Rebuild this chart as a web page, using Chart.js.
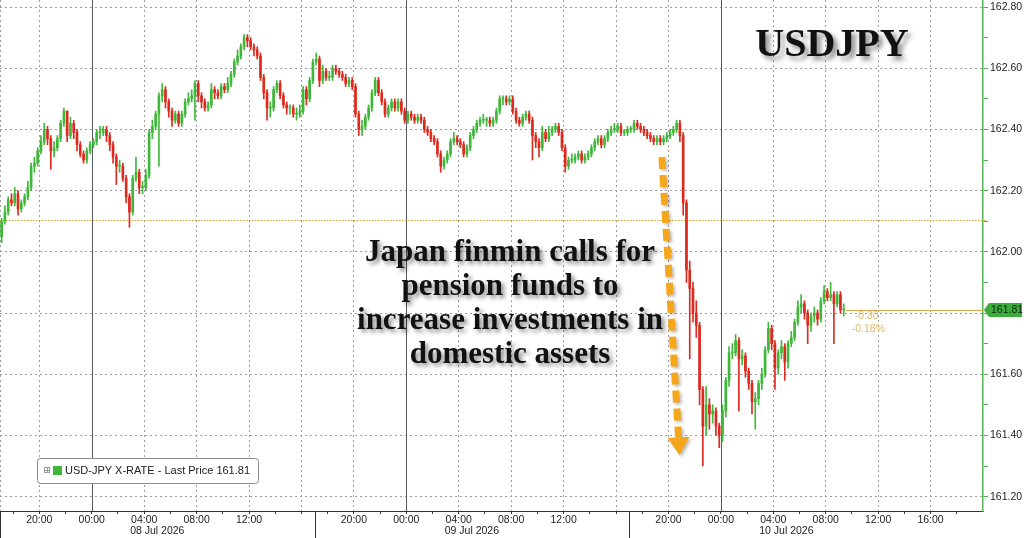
<!DOCTYPE html>
<html>
<head>
<meta charset="utf-8">
<title>USDJPY</title>
<script src="https://cdn.jsdelivr.net/npm/chart.js@4.4.1/dist/chart.umd.min.js"></script>
<style>
  html, body { margin: 0; padding: 0; background: #fff; }
  #wrap { width: 1024px; height: 538px; }
</style>
</head>
<body>
<div id="wrap"><canvas id="fx" width="1024" height="538"></canvas></div>
<script>
/***********************
 Data (15 min candles, hours counted from 07 Jul 2026 17:00)
 ***********************/
const candleStep = 0.25;

const opens = [
  162.05,162.10,162.13,162.17,162.16,162.19,162.14,162.16,162.18,162.21,
  162.28,162.29,162.33,162.36,162.40,162.37,162.33,162.34,162.37,162.42,
  162.46,162.38,162.42,162.39,162.35,162.32,162.30,162.33,162.35,162.36,
  162.39,162.39,162.40,162.38,162.35,162.31,162.28,162.28,162.24,162.18,
  162.13,162.24,162.26,162.21,162.21,162.25,162.39,162.41,162.45,162.51,
  162.53,162.49,162.46,162.43,162.45,162.42,162.45,162.49,162.50,162.51,
  162.55,162.51,162.49,162.47,162.48,162.53,162.52,162.51,162.54,162.53,
  162.55,162.58,162.62,162.64,162.67,162.70,162.69,162.67,162.66,162.64,
  162.57,162.52,162.47,162.47,162.53,162.55,162.51,162.48,162.47,162.47,
  162.45,162.45,162.46,162.53,162.50,162.56,162.62,162.63,162.56,162.59,
  162.57,162.57,162.60,162.59,162.58,162.57,162.55,162.56,162.54,162.45,
  162.40,162.41,162.44,162.47,162.52,162.56,162.52,162.49,162.45,162.47,
  162.49,162.47,162.49,162.46,162.43,162.45,162.44,162.43,162.44,162.43,
  162.40,162.39,162.37,162.36,162.32,162.28,162.30,162.32,162.36,162.37,
  162.36,162.35,162.32,162.34,162.38,162.40,162.42,162.43,162.43,162.43,
  162.42,162.43,162.46,162.50,162.50,162.49,162.50,162.46,162.43,162.42,
  162.44,162.45,162.43,162.38,162.36,162.34,162.39,162.37,162.39,162.40,
  162.41,162.39,162.34,162.28,162.30,162.30,162.31,162.32,162.30,162.31,
  162.32,162.34,162.36,162.37,162.35,162.37,162.39,162.40,162.40,162.41,
  162.39,162.39,162.40,162.40,162.42,162.41,162.40,162.39,162.38,162.37,
  162.36,162.37,162.36,162.37,162.38,162.39,162.40,162.42,162.38,162.16,
  161.94,161.88,161.80,161.76,161.55,161.43,161.50,161.47,161.48,161.43,
  161.40,161.48,161.58,161.67,161.67,161.71,161.65,161.66,161.61,161.57,
  161.51,161.52,161.57,161.60,161.68,161.75,161.70,161.62,161.67,161.69,
  161.64,161.70,161.72,161.77,161.82,161.83,161.80,161.76,161.79,161.80,
  161.78,161.84,161.87,161.85,161.86,161.83,161.86,161.81
];
const closes = [
  162.10,162.13,162.17,162.16,162.19,162.14,162.16,162.18,162.21,162.28,
  162.29,162.33,162.36,162.40,162.37,162.33,162.34,162.37,162.42,162.46,
  162.38,162.42,162.39,162.35,162.32,162.30,162.33,162.35,162.36,162.39,
  162.39,162.40,162.38,162.35,162.31,162.28,162.28,162.24,162.18,162.13,
  162.24,162.26,162.21,162.21,162.25,162.39,162.41,162.45,162.51,162.53,
  162.49,162.46,162.43,162.45,162.42,162.45,162.49,162.50,162.51,162.55,
  162.51,162.49,162.47,162.48,162.53,162.52,162.51,162.54,162.53,162.55,
  162.58,162.62,162.64,162.67,162.70,162.69,162.67,162.66,162.64,162.57,
  162.52,162.47,162.47,162.53,162.55,162.51,162.48,162.47,162.47,162.45,
  162.45,162.46,162.53,162.50,162.56,162.62,162.63,162.56,162.59,162.57,
  162.57,162.60,162.59,162.58,162.57,162.55,162.56,162.54,162.45,162.40,
  162.41,162.44,162.47,162.52,162.56,162.52,162.49,162.45,162.47,162.49,
  162.47,162.49,162.46,162.43,162.45,162.44,162.43,162.44,162.43,162.40,
  162.39,162.37,162.36,162.32,162.28,162.30,162.32,162.36,162.37,162.36,
  162.35,162.32,162.34,162.38,162.40,162.42,162.43,162.43,162.43,162.42,
  162.43,162.46,162.50,162.50,162.49,162.50,162.46,162.43,162.42,162.44,
  162.45,162.43,162.38,162.36,162.34,162.39,162.37,162.39,162.40,162.41,
  162.39,162.34,162.28,162.30,162.30,162.31,162.32,162.30,162.31,162.32,
  162.34,162.36,162.37,162.35,162.37,162.39,162.40,162.40,162.41,162.39,
  162.39,162.40,162.40,162.42,162.41,162.40,162.39,162.38,162.37,162.36,
  162.37,162.36,162.37,162.38,162.39,162.40,162.42,162.38,162.16,161.94,
  161.88,161.80,161.76,161.55,161.43,161.50,161.47,161.48,161.43,161.40,
  161.48,161.58,161.67,161.67,161.71,161.65,161.66,161.61,161.57,161.51,
  161.52,161.57,161.60,161.68,161.75,161.70,161.62,161.67,161.69,161.64,
  161.70,161.72,161.77,161.82,161.83,161.80,161.76,161.79,161.80,161.78,
  161.84,161.87,161.85,161.86,161.83,161.86,161.81,161.81
];
const highs = [
  162.11,162.15,162.18,162.19,162.21,162.20,162.17,162.19,162.23,162.29,
  162.31,162.34,162.38,162.42,162.41,162.38,162.36,162.38,162.43,162.47,
  162.46,162.44,162.43,162.40,162.36,162.33,162.34,162.36,162.37,162.40,
  162.41,162.41,162.41,162.39,162.36,162.32,162.30,162.29,162.25,162.19,
  162.25,162.31,162.27,162.23,162.27,162.40,162.43,162.46,162.52,162.55,
  162.54,162.50,162.47,162.46,162.46,162.46,162.50,162.52,162.53,162.56,
  162.56,162.52,162.50,162.49,162.55,162.54,162.53,162.55,162.55,162.57,
  162.59,162.63,162.66,162.68,162.71,162.71,162.70,162.68,162.67,162.65,
  162.58,162.53,162.49,162.54,162.56,162.56,162.52,162.49,162.48,162.48,
  162.47,162.48,162.54,162.54,162.57,162.63,162.65,162.64,162.61,162.60,
  162.59,162.61,162.61,162.60,162.59,162.58,162.57,162.57,162.55,162.46,
  162.43,162.45,162.48,162.53,162.57,162.57,162.53,162.50,162.48,162.50,
  162.50,162.50,162.50,162.47,162.46,162.46,162.45,162.45,162.45,162.44,
  162.41,162.40,162.38,162.37,162.33,162.31,162.33,162.37,162.39,162.38,
  162.37,162.36,162.35,162.39,162.41,162.43,162.44,162.45,162.44,162.44,
  162.44,162.47,162.51,162.51,162.51,162.51,162.51,162.47,162.44,162.45,
  162.46,162.46,162.44,162.39,162.37,162.41,162.40,162.41,162.41,162.42,
  162.42,162.40,162.35,162.31,162.32,162.32,162.33,162.33,162.32,162.33,
  162.35,162.37,162.38,162.38,162.38,162.40,162.41,162.42,162.42,162.42,
  162.40,162.41,162.41,162.43,162.43,162.42,162.41,162.40,162.39,162.38,
  162.38,162.38,162.38,162.39,162.40,162.41,162.43,162.43,162.39,162.17,
  161.97,161.90,161.84,161.77,161.56,161.56,161.52,161.50,161.49,161.44,
  161.50,161.59,161.69,161.70,161.73,161.72,161.68,161.67,161.62,161.58,
  161.54,161.58,161.62,161.69,161.77,161.76,161.71,161.68,161.71,161.70,
  161.71,161.74,161.78,161.84,161.86,161.84,161.81,161.80,161.82,161.81,
  161.85,161.89,161.88,161.90,161.87,161.87,161.87,161.83
];
const lows = [
  162.03,162.09,162.12,162.15,162.15,162.12,162.13,162.15,162.17,162.20,
  162.26,162.28,162.32,162.35,162.35,162.27,162.31,162.33,162.36,162.41,
  162.36,162.37,162.37,162.33,162.31,162.29,162.29,162.32,162.34,162.35,
  162.37,162.38,162.36,162.33,162.29,162.22,162.26,162.23,162.16,162.08,
  162.12,162.23,162.19,162.19,162.20,162.24,162.37,162.40,162.28,162.49,
  162.47,162.44,162.41,162.42,162.41,162.41,162.44,162.48,162.49,162.43,
  162.49,162.47,162.46,162.46,162.47,162.50,162.50,162.50,162.52,162.52,
  162.54,162.57,162.61,162.63,162.66,162.67,162.66,162.64,162.63,162.56,
  162.50,162.43,162.44,162.46,162.52,162.50,162.47,162.45,162.45,162.44,
  162.43,162.44,162.45,162.48,162.49,162.55,162.61,162.54,162.55,162.56,
  162.56,162.56,162.58,162.57,162.56,162.54,162.54,162.53,162.44,162.38,
  162.38,162.40,162.43,162.46,162.51,162.51,162.48,162.44,162.44,162.46,
  162.46,162.46,162.45,162.42,162.42,162.43,162.42,162.42,162.42,162.39,
  162.38,162.36,162.35,162.31,162.26,162.27,162.29,162.31,162.35,162.35,
  162.34,162.31,162.31,162.33,162.37,162.39,162.41,162.42,162.41,162.41,
  162.41,162.42,162.45,162.48,162.48,162.48,162.45,162.42,162.41,162.41,
  162.43,162.42,162.30,162.34,162.31,162.33,162.36,162.36,162.38,162.39,
  162.38,162.33,162.26,162.27,162.29,162.29,162.30,162.29,162.29,162.30,
  162.31,162.33,162.35,162.34,162.34,162.36,162.38,162.39,162.39,162.38,
  162.38,162.38,162.39,162.39,162.40,162.39,162.38,162.37,162.36,162.35,
  162.35,162.35,162.35,162.36,162.37,162.38,162.39,162.36,162.12,161.90,
  161.65,161.77,161.72,161.50,161.30,161.40,161.42,161.44,161.40,161.36,
  161.38,161.46,161.56,161.65,161.66,161.48,161.63,161.59,161.55,161.47,
  161.42,161.50,161.55,161.59,161.67,161.68,161.55,161.60,161.65,161.58,
  161.62,161.69,161.71,161.76,161.80,161.78,161.70,161.74,161.77,161.76,
  161.77,161.83,161.84,161.84,161.70,161.82,161.80,161.79
];

// x axis: grid every 4h, small ticks every 2h, 00:00 drawn solid
const xMinorHours = [1,5,9,13,17,21,25,29,33,37,41,45,49,53,57,61,65,69,73];
const xGridHours = [3,7,11,15,19,23,27,31,35,39,43,47,51,55,59,63,67,71];
const xTickLabels = ['20:00','00:00','04:00','08:00','12:00','','20:00','00:00','04:00','08:00','12:00','','20:00','00:00','04:00','08:00','12:00','16:00'];
const midnightHours = [7, 31, 55];
const sessionStarts = [0, 24, 48];
const dateCenters = [12, 36, 60];
const dateLabels = ['08 Jul 2026', '09 Jul 2026', '10 Jul 2026'];

// y axis: labels every 0.20, small ticks every 0.10
const yTicks = [161.2,161.3,161.4,161.5,161.6,161.7,161.8,161.9,162.0,162.1,162.2,162.3,162.4,162.5,162.6,162.7,162.8];
const yTickLabels = ['161.20','','161.40','','161.60','','','','162.00','','162.20','','162.40','','162.60','','162.80'];

const prevClose = 162.105;
const lastPrice = 161.81;
const netChange = '-0.30';
const pctChange = '-0.18%';
const noteLines = ['Japan finmin calls for', 'pension funds to', 'increase investments in', 'domestic assets'];

const UP = '#3fb83a';
const DOWN = '#dc2a1f';

const candleHours = closes.map((_, i) => i * candleStep + 0.125);
const candleColors = closes.map((c, i) => c >= opens[i] ? UP : DOWN);

const tickFont = { family: 'Liberation Sans', size: 10.5 };

/***********************
 Extra drawing: separators, price lines, annotation, title, legend
 ***********************/
const overlay = {
  id: 'overlay',
  beforeDatasetsDraw(chart) {
    const { ctx, chartArea: a, scales: { x, y } } = chart;
    ctx.save();
    // solid 00:00 lines
    ctx.strokeStyle = '#5a5a5a';
    ctx.lineWidth = 1;
    midnightHours.forEach(h => {
      const px = Math.round(x.getPixelForValue(h)) + 0.5;
      ctx.beginPath(); ctx.moveTo(px, a.top); ctx.lineTo(px, a.bottom); ctx.stroke();
    });
    // left edge dotted
    ctx.strokeStyle = '#9c9c9c';
    ctx.setLineDash([2, 3]);
    ctx.beginPath(); ctx.moveTo(a.left + 0.5, a.top); ctx.lineTo(a.left + 0.5, a.bottom); ctx.stroke();
    // previous close dotted
    const py = Math.round(y.getPixelForValue(prevClose)) + 0.5;
    ctx.strokeStyle = '#d4a12e';
    ctx.setLineDash([1.5, 1.5]);
    ctx.beginPath(); ctx.moveTo(a.left, py); ctx.lineTo(a.right + 3, py); ctx.stroke();
    ctx.restore();
  },
  afterDatasetsDraw(chart) {
    const { ctx, chartArea: a, scales: { x, y } } = chart;
    ctx.save();
    // last price line
    const lx = x.getPixelForValue(candleHours[candleHours.length - 1]) + 2;
    const ly = Math.round(y.getPixelForValue(lastPrice)) + 0.5;
    ctx.strokeStyle = '#d9a84e';
    ctx.lineWidth = 1;
    ctx.beginPath(); ctx.moveTo(lx, ly); ctx.lineTo(a.right, ly); ctx.stroke();

    ctx.fillStyle = '#e6b86a';
    ctx.font = '10.5px "Liberation Sans"';
    ctx.textBaseline = 'middle';
    ctx.fillText(netChange, lx + 9, ly + 6);
    ctx.fillText(pctChange, lx + 6, ly + 19);

    // dashed orange arrow
    const x0 = x.getPixelForValue(50.5), y0 = y.getPixelForValue(162.31);
    const x1 = x.getPixelForValue(51.85), y1 = y.getPixelForValue(161.335);
    const ang = Math.atan2(y1 - y0, x1 - x0);
    const headLen = 18;
    const bx = x1 - Math.cos(ang) * headLen, by = y1 - Math.sin(ang) * headLen;
    ctx.shadowColor = 'rgba(0,0,0,0.25)';
    ctx.shadowBlur = 3; ctx.shadowOffsetX = 2; ctx.shadowOffsetY = 2;
    ctx.strokeStyle = '#f4a71d';
    ctx.lineWidth = 7;
    ctx.setLineDash([12, 6]);
    ctx.beginPath(); ctx.moveTo(x0, y0); ctx.lineTo(bx, by); ctx.stroke();
    ctx.setLineDash([]);
    ctx.fillStyle = '#f4a71d';
    const nx = -Math.sin(ang), ny = Math.cos(ang);
    ctx.beginPath();
    ctx.moveTo(x1, y1);
    ctx.lineTo(bx + nx * 11, by + ny * 11);
    ctx.lineTo(bx - nx * 11, by - ny * 11);
    ctx.closePath(); ctx.fill();

    // annotation
    ctx.shadowColor = 'rgba(0,0,0,0.45)';
    ctx.shadowBlur = 4; ctx.shadowOffsetX = 3; ctx.shadowOffsetY = 3;
    ctx.fillStyle = '#111';
    ctx.font = 'bold 31px "Liberation Serif"';
    ctx.textAlign = 'center';
    ctx.textBaseline = 'alphabetic';
    noteLines.forEach((t, i) => ctx.fillText(t, 510, 261 + i * 34));

    // title
    ctx.font = 'bold 40px "Liberation Serif"';
    ctx.shadowBlur = 5; ctx.shadowOffsetX = 4; ctx.shadowOffsetY = 4;
    ctx.fillText('USDJPY', 832, 56);
    ctx.restore();
  },
  afterDraw(chart) {
    const { ctx, chartArea: a, scales: { x, y } } = chart;
    ctx.save();
    // date row
    ctx.strokeStyle = '#333';
    ctx.lineWidth = 1;
    sessionStarts.forEach(h => {
      const px = Math.round(x.getPixelForValue(h)) + 0.5;
      ctx.beginPath(); ctx.moveTo(px, a.bottom); ctx.lineTo(px, chart.height); ctx.stroke();
    });
    ctx.fillStyle = '#222';
    ctx.font = '10.5px "Liberation Sans"';
    ctx.textAlign = 'center';
    ctx.textBaseline = 'middle';
    dateCenters.forEach((h, i) => ctx.fillText(dateLabels[i], x.getPixelForValue(h), 531));

    // last price tag on the axis
    const ty = Math.round(y.getPixelForValue(lastPrice));
    ctx.fillStyle = '#3aad3a';
    ctx.beginPath();
    ctx.moveTo(a.right + 1, ty);
    ctx.lineTo(a.right + 6, ty - 7);
    ctx.lineTo(1022, ty - 7);
    ctx.lineTo(1022, ty + 7);
    ctx.lineTo(a.right + 6, ty + 7);
    ctx.closePath(); ctx.fill();
    ctx.fillStyle = '#0f2a0f';
    ctx.textAlign = 'left';
    ctx.fillText(lastPrice.toFixed(2), a.right + 8, ty + 0.5);

    // legend box
    const label = 'USD-JPY X-RATE - Last Price ' + lastPrice.toFixed(2);
    ctx.font = '11px "Liberation Sans"';
    const tw = ctx.measureText(label).width;
    ctx.fillStyle = '#fff';
    ctx.strokeStyle = '#8c8c8c';
    ctx.beginPath(); ctx.roundRect(37.5, 458.5, tw + 36, 25, 3); ctx.fill(); ctx.stroke();
    ctx.strokeStyle = '#9a9a9a';
    ctx.strokeRect(44.5, 467.5, 5, 5);
    ctx.beginPath(); ctx.moveTo(45, 470.5); ctx.lineTo(49, 470.5); ctx.moveTo(47.5, 468); ctx.lineTo(47.5, 472); ctx.stroke();
    ctx.fillStyle = UP;
    ctx.fillRect(53, 466, 9, 9);
    ctx.fillStyle = '#222';
    ctx.textBaseline = 'middle';
    ctx.fillText(label, 65, 471);
    ctx.restore();
  }
};

/***********************
 Chart
 ***********************/
new Chart(document.getElementById('fx'), {
  type: 'bar',
  data: {
    datasets: [
      {
        label: 'wick',
        data: candleHours.map((h, i) => ({ x: h, y: [lows[i], highs[i]] })),
        backgroundColor: candleColors,
        barThickness: 1,
        grouped: false,
        order: 2
      },
      {
        label: 'body',
        data: candleHours.map((h, i) => ({ x: h, y: [opens[i], closes[i]] })),
        backgroundColor: candleColors,
        barThickness: 2,
        minBarLength: 1,
        grouped: false,
        order: 1
      }
    ]
  },
  options: {
    responsive: false,
    animation: false,
    devicePixelRatio: 1,
    layout: { padding: 0 },
    plugins: { legend: { display: false }, tooltip: { enabled: false } },
    scales: {
      x: {
        type: 'linear',
        min: 0, max: 75,
        offset: false,
        afterBuildTicks: s => {
          s.ticks = xMinorHours.concat(xGridHours).sort((p, q) => p - q).map(v => ({ value: v }));
        },
        afterFit: s => { s.height = 27; s.paddingLeft = 0; s.paddingRight = 0; },
        ticks: {
          autoSkip: false, maxRotation: 0, padding: 0,
          color: '#222', font: tickFont,
          callback: v => {
            const k = xGridHours.indexOf(v);
            return k >= 0 ? xTickLabels[k] : '';
          }
        },
        grid: {
          offset: false,
          tickLength: 3,
          tickColor: '#333',
          color: c => {
            const v = c.tick && c.tick.value;
            if (midnightHours.includes(v)) return 'transparent';
            return xGridHours.includes(v) ? '#9c9c9c' : 'transparent';
          }
        },
        border: { color: '#333', width: 1, dash: [2, 3] }
      },
      y: {
        position: 'right',
        min: 161.153, max: 162.823,
        afterBuildTicks: s => { s.ticks = yTicks.map(v => ({ value: v })); },
        afterFit: s => { s.width = 41; s.paddingTop = 0; s.paddingBottom = 0; },
        ticks: {
          autoSkip: false, padding: 2,
          color: '#222', font: tickFont,
          callback: (v, i) => yTickLabels[i]
        },
        grid: {
          tickLength: 5,
          tickColor: '#4fb34f',
          color: c => c.index % 2 === 0 ? '#9c9c9c' : 'transparent'
        },
        border: { color: '#55b655', width: 1.5, dash: [2, 3] }
      }
    }
  },
  plugins: [overlay]
});
</script>
</body>
</html>
